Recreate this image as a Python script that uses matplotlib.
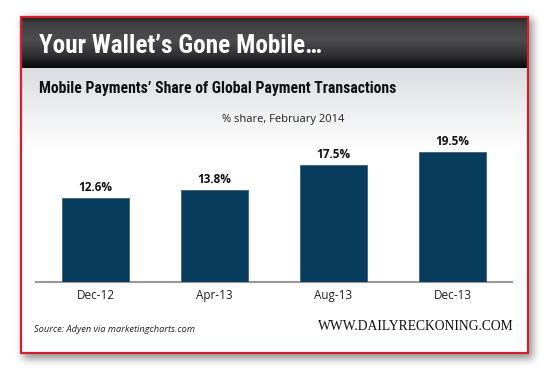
import numpy as np
import matplotlib
matplotlib.use("Agg")
import matplotlib.pyplot as plt
from matplotlib import font_manager as fm
from matplotlib.patches import Rectangle

# ---- data ----
categories = ["Dec-12", "Apr-13", "Aug-13", "Dec-13"]
values = [12.6, 13.8, 17.5, 19.5]
value_labels = ["12.6%", "13.8%", "17.5%", "19.5%"]

title = "Your Wallet\u2019s Gone Mobile\u2026"
subtitle = "Mobile Payments\u2019 Share of Global Payment Transactions"
note = "% share, February 2014"
source = "Source: Adyen via marketingcharts.com"
brand = "WWW.DAILYRECKONING.COM"

names = {f.name for f in fm.fontManager.ttflist}
def pick(cands, default):
    for c in cands:
        if c in names:
            return c
    return default
narrow = pick(["Roboto Condensed", "Liberation Sans Narrow", "Archivo Narrow", "PT Sans Narrow",
               "IBM Plex Sans Condensed", "Barlow Semi Condensed"], "DejaVu Sans")
body = pick(["Open Sans", "PT Sans"], "DejaVu Sans")
serif = pick(["Liberation Serif"], "DejaVu Serif")

W, H = 550, 374
fig = plt.figure(figsize=(W / 100, H / 100), dpi=100)
fig.patch.set_facecolor("white")

bg = fig.add_axes([0, 0, 1, 1])
bg.set_xlim(0, W)
bg.set_ylim(H, 0)
bg.axis("off")

# frame geometry (pixels)
L, T, R, B = 21, 17, 528, 353
HB = 68  # header bottom

# soft shadow
yy, xx = np.mgrid[0:H, 0:W]
mask = ((xx >= L + 2) & (xx <= R + 4) & (yy >= T + 1) & (yy <= B + 5)).astype(float)
def blur(a, s):
    k = np.arange(-3 * s, 3 * s + 1)
    g = np.exp(-k ** 2 / (2 * s * s)); g /= g.sum()
    a = np.apply_along_axis(lambda r: np.convolve(r, g, mode="same"), 1, a)
    a = np.apply_along_axis(lambda c: np.convolve(c, g, mode="same"), 0, a)
    return a
sh = blur(mask, 4) * 0.55
rgba = np.zeros((H, W, 4))
rgba[..., 0:3] = 0.25
rgba[..., 3] = sh
bg.imshow(rgba, extent=[0, W, H, 0], zorder=0, interpolation="bilinear")

# panel gradient (light gray to white)
bg.add_patch(Rectangle((L, T), R - L, B - T, facecolor="white", edgecolor="none", zorder=1))
n = 100
pg = np.linspace(0, 1, n)
c0 = np.array([0.86, 0.865, 0.875]); c1 = np.array([1, 1, 1])
col = c0[None, :] * (1 - pg[:, None]) + c1[None, :] * pg[:, None]
bg.imshow(col[:, None, :], extent=[L, R, 150, HB], aspect="auto", zorder=2, interpolation="bilinear")

# header gradient
stops_y = [0.0, 0.12, 0.45, 0.75, 1.0]
stops_c = [(0.13, 0.13, 0.13), (0.25, 0.25, 0.26), (0.30, 0.30, 0.31), (0.19, 0.19, 0.20), (0.03, 0.03, 0.03)]
t = np.linspace(0, 1, 100)
hc = np.stack([np.interp(t, stops_y, [c[i] for c in stops_c]) for i in range(3)], axis=1)
bg.imshow(hc[:, None, :], extent=[L, R, HB, T], aspect="auto", zorder=3, interpolation="bilinear")

# red border
bg.add_patch(Rectangle((L, T), R - L, B - T, facecolor="none", edgecolor="#d3202f", linewidth=1.6, zorder=10))

# texts
bg.text(39, 46, title, color="white", fontsize=18.2, fontweight="bold", family=[narrow, "DejaVu Sans"],
        va="center", ha="left", zorder=11)
bg.text(39, 88, subtitle, color="#111111", fontsize=11.3, fontweight="bold", family=[narrow, "DejaVu Sans"],
        va="center", ha="left", zorder=11)
bg.text(283, 119, note, color="#222222", fontsize=8, family=[body, "DejaVu Sans"],
        va="center", ha="center", zorder=11)
bg.text(34, 330, source, color="#222222", fontsize=6.7, style="italic", family=[body, "DejaVu Sans"],
        va="center", ha="left", zorder=11)
bg.text(514, 327, brand, color="#111111", fontsize=9.8, family=[serif, "DejaVu Serif"],
        va="center", ha="right", zorder=11)

# chart axes: baseline y=282 px, x from 36 to 512 px, 6.667 px per unit
x0, x1 = 36, 512
ybase = 282
ymax = 21
ppu = 130 / 19.5
top_px = ybase - ymax * ppu
ax = fig.add_axes([x0 / W, (H - ybase) / H, (x1 - x0) / W, (ybase - top_px) / H])
ax.set_facecolor("none")
ax.set_xlim(-0.5, len(categories) - 0.5)
ax.set_ylim(0, ymax)
xs = np.arange(len(categories))
bars = ax.bar(xs, values, width=0.555, color="#073c5c", edgecolor="#2c5675", linewidth=0.5, zorder=3)
for xi, v, lab in zip(xs, values, value_labels):
    ax.annotate(lab, (xi, v), xytext=(0, 3), textcoords="offset points", ha="center", va="bottom",
                fontsize=8.5, fontweight="bold", color="#111111", family=[body, "DejaVu Sans"])
for s in ["top", "right", "left"]:
    ax.spines[s].set_visible(False)
ax.spines["bottom"].set_color("#999999")
ax.spines["bottom"].set_linewidth(1.5)
ax.set_yticks([])
ax.set_xticks(xs)
ax.set_xticklabels(categories, fontsize=8.5, color="#222222", family=[body, "DejaVu Sans"])
ax.tick_params(axis="x", length=0, pad=5)

fig.savefig("out.png", dpi=100, facecolor="white")
